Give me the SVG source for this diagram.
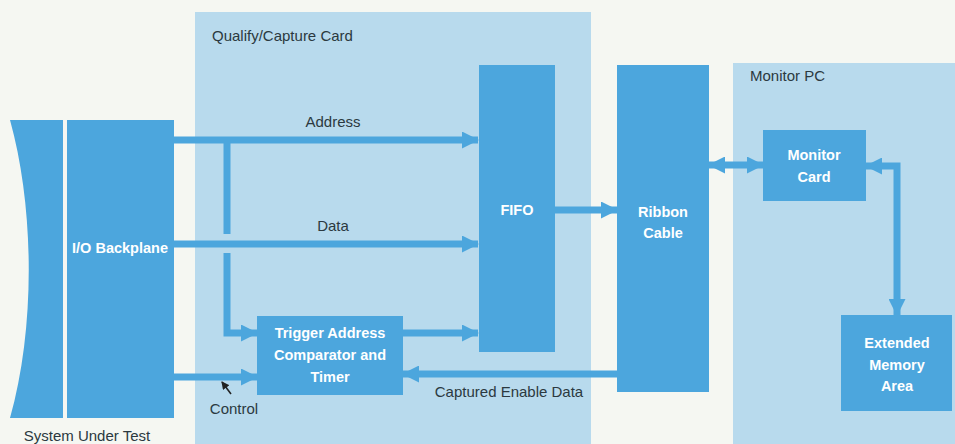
<svg xmlns="http://www.w3.org/2000/svg" width="955" height="444" viewBox="0 0 955 444">
<defs>
<style>
.bg{fill:#f5f7f2}
.panel{fill:#b8daed}
.box{fill:#4ca6dd}
.lbl{font-family:"Liberation Sans",Arial,sans-serif;font-size:15px;fill:#2b3940}
.bt{font-family:"Liberation Sans",Arial,sans-serif;font-size:14.5px;font-weight:bold;fill:#ffffff;text-anchor:middle}
.wire{stroke:#4ca6dd;stroke-width:7;fill:none}
</style>
<marker id="ah" markerUnits="userSpaceOnUse" markerWidth="17" markerHeight="17" refX="16" refY="8.5" orient="auto-start-reverse">
<path d="M0,0 L17,8.5 L0,17 Z" fill="#4ca6dd"/>
</marker>
<marker id="ptr" markerUnits="userSpaceOnUse" markerWidth="8" markerHeight="8" refX="7" refY="4" orient="auto">
<path d="M0,0 L8,4 L0,8 Z" fill="#222"/>
</marker>
</defs>
<rect class="bg" x="0" y="0" width="955" height="444"/>
<g id="qualify-capture-card">
<rect class="panel" x="195" y="12" width="396" height="432"/>
<text class="lbl" x="212" y="41">Qualify/Capture Card</text>
</g>
<g id="monitor-pc">
<rect class="panel" x="733" y="63" width="222" height="381"/>
<text class="lbl" x="750" y="81">Monitor PC</text>
</g>
<g id="connectors">
<line class="wire" x1="174" y1="140" x2="478" y2="140" marker-end="url(#ah)"/>
<line class="wire" x1="174" y1="244" x2="478" y2="244" marker-end="url(#ah)"/>
<path class="wire" d="M227,140 V234"/>
<path class="wire" d="M227,253 V333 H257" marker-end="url(#ah)"/>
<line class="wire" x1="174" y1="377" x2="257" y2="377" marker-end="url(#ah)"/>
<line class="wire" x1="403" y1="333" x2="478" y2="333" marker-end="url(#ah)"/>
<line class="wire" x1="617" y1="374" x2="403" y2="374" marker-end="url(#ah)"/>
<line class="wire" x1="555" y1="210" x2="617" y2="210" marker-end="url(#ah)"/>
<line class="wire" x1="709" y1="165" x2="763" y2="165" marker-start="url(#ah)" marker-end="url(#ah)"/>
<path class="wire" d="M866,166 H897 V315" marker-start="url(#ah)" marker-end="url(#ah)"/>
<line x1="231" y1="394" x2="222" y2="382" stroke="#222" stroke-width="1.5" marker-end="url(#ptr)"/>
</g>
<g id="system-under-test">
<path class="box" d="M10,120 H63 V418 H10 C35,330 35,210 10,120 Z"/>
<text class="lbl" x="87" y="441" text-anchor="middle">System Under Test</text>
</g>
<g id="io-backplane">
<rect class="box" x="67" y="120" width="107" height="298"/>
<text class="bt" x="120" y="253">I/O Backplane</text>
</g>
<g id="fifo">
<rect class="box" x="479" y="65" width="76" height="287"/>
<text class="bt" x="517" y="215">FIFO</text>
</g>
<g id="ribbon-cable">
<rect class="box" x="617" y="65" width="92" height="327"/>
<text class="bt" x="663" y="217">Ribbon</text>
<text class="bt" x="663" y="238">Cable</text>
</g>
<g id="trigger">
<rect class="box" x="257" y="316" width="146" height="79"/>
<text class="bt" x="330" y="338">Trigger Address</text>
<text class="bt" x="330" y="360">Comparator and</text>
<text class="bt" x="330" y="382">Timer</text>
</g>
<g id="monitor-card">
<rect class="box" x="763" y="130" width="103" height="71"/>
<text class="bt" x="814" y="160">Monitor</text>
<text class="bt" x="814" y="182">Card</text>
</g>
<g id="extended-memory">
<rect class="box" x="841" y="315" width="111" height="96"/>
<text class="bt" x="897" y="348">Extended</text>
<text class="bt" x="897" y="370">Memory</text>
<text class="bt" x="897" y="391">Area</text>
</g>
<g id="labels">
<text class="lbl" x="333" y="127" text-anchor="middle">Address</text>
<text class="lbl" x="333" y="231" text-anchor="middle">Data</text>
<text class="lbl" x="234" y="414" text-anchor="middle">Control</text>
<text class="lbl" x="509" y="397" text-anchor="middle">Captured Enable Data</text>
</g>
</svg>
